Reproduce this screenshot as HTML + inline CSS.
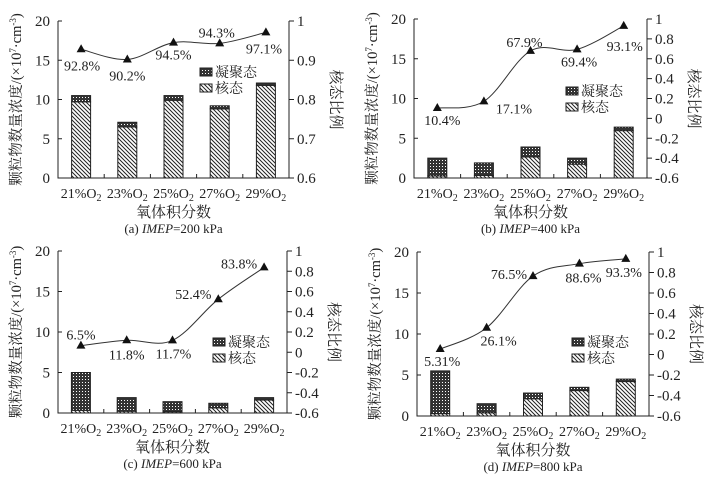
<!DOCTYPE html>
<html><head><meta charset="utf-8">
<style>
html,body{margin:0;padding:0;background:#fff;}
svg{display:block;font-family:"Liberation Serif","Noto Serif CJK SC",serif;}
</style></head>
<body>
<svg id="fig" width="716" height="477" viewBox="0 0 716 477" xmlns="http://www.w3.org/2000/svg">
<defs>
<pattern id="hatch" patternUnits="userSpaceOnUse" width="4" height="4">
<rect width="4" height="4" fill="#fff"/>
<path d="M-1,-1 L5,5 M-1,3 L1,5 M3,-1 L5,1" stroke="#222" stroke-width="1"/>
</pattern>
<pattern id="cross" patternUnits="userSpaceOnUse" width="3" height="3">
<rect width="3" height="3" fill="#333"/>
<rect x="1" y="1" width="1" height="1" fill="#fff"/>
</pattern>
</defs>
</svg>
<script>
const categories = ["21%O2","23%O2","25%O2","27%O2","29%O2"];
const totalA = [10.5, 7.1, 10.5, 9.2, 12.1];
const nucleusA = [9.7, 6.5, 9.9, 8.8, 11.8];
const ratioA = [0.928, 0.902, 0.945, 0.943, 0.971];
const ratioLabelsA = ["92.8%","90.2%","94.5%","94.3%","97.1%"];
const totalB = [2.5, 1.9, 3.9, 2.5, 6.4];
const nucleusB = [0.26, 0.33, 2.65, 1.74, 5.96];
const ratioB = [0.104, 0.171, 0.679, 0.694, 0.931];
const ratioLabelsB = ["10.4%","17.1%","67.9%","69.4%","93.1%"];
const totalC = [5.0, 1.9, 1.4, 1.2, 1.9];
const nucleusC = [0.33, 0.22, 0.16, 0.63, 1.6];
const ratioC = [0.065, 0.118, 0.117, 0.524, 0.838];
const ratioLabelsC = ["6.5%","11.8%","11.7%","52.4%","83.8%"];
const totalD = [5.5, 1.5, 2.8, 3.5, 4.5];
const nucleusD = [0.29, 0.39, 2.1, 3.1, 4.2];
const ratioD = [0.0531, 0.261, 0.765, 0.886, 0.933];
const ratioLabelsD = ["5.31%","26.1%","76.5%","88.6%","93.3%"];
const leftTicks = [0,5,10,15,20];
const rightTicksA = [0.6,0.7,0.8,0.9,1];
const rightTicksB = [-0.6,-0.4,-0.2,0,0.2,0.4,0.6,0.8,1];

const NS="http://www.w3.org/2000/svg";
const svg=document.getElementById('fig');
function mk(tag,attrs,parent){const e=document.createElementNS(NS,tag);for(const k in attrs)e.setAttribute(k,attrs[k]);(parent||svg).appendChild(e);return e;}
function txt(s,x,y,size,parent,anchor){const t=mk('text',{x:x,y:y,'font-size':size,'text-anchor':anchor||'middle',fill:'#222'},parent);t.textContent=s;return t;}

const panels=[
 {id:'a',L:58,R:289,T:21,B:178,total:totalA,nuc:nucleusA,ratio:ratioA,rl:ratioLabelsA,rt:rightTicksA,rmin:0.6,rmax:1,
  off:[[1,16],[0,16],[0,12],[-3,-11],[-2,16]],leg:[200,73],cap:"(a) ",kpa:"=200 kPa"},
 {id:'b',L:414,R:647,T:19,B:178,total:totalB,nuc:nucleusB,ratio:ratioB,rl:ratioLabelsB,rt:rightTicksB,rmin:-0.6,rmax:1,
  off:[[5,12],[30,7],[-6,-9],[2,12],[1,20]],leg:[566,92],cap:"(b) ",kpa:"=400 kPa"},
 {id:'c',L:58,R:287,T:251,B:413,total:totalC,nuc:nucleusC,ratio:ratioC,rl:ratioLabelsC,rt:rightTicksB,rmin:-0.6,rmax:1,
  off:[[0,-11],[0,14],[1,13],[-25,-5],[-25,-4]],leg:[213,343],cap:"(c) ",kpa:"=600 kPa"},
 {id:'d',L:417,R:649,T:252,B:416,total:totalD,nuc:nucleusD,ratio:ratioD,rl:ratioLabelsD,rt:rightTicksB,rmin:-0.6,rmax:1,
  off:[[2,12],[12,13],[-24,-2],[4,14],[-2,13]],leg:[572,343],cap:"(d) ",kpa:"=800 kPa"}
];

panels.forEach(p=>{
 const g=mk('g',{});
 
 
 const n=categories.length, bw=(p.R-p.L)/n, barW=19;
 const y=v=>p.B-(v/20)*(p.B-p.T);
 const yr=v=>p.B-((v-p.rmin)/(p.rmax-p.rmin))*(p.B-p.T);
 const xc=i=>p.L+bw*(i+0.5);
 categories.forEach((c,i)=>{
  const nb=mk('rect',{x:xc(i)-barW/2,y:y(p.nuc[i]),width:barW,height:y(0)-y(p.nuc[i]),fill:'url(#hatch)',stroke:'#222','stroke-width':1},g);
  
  
  const ab=mk('rect',{x:xc(i)-barW/2,y:y(p.total[i]),width:barW,height:y(p.nuc[i])-y(p.total[i]),fill:'url(#cross)',stroke:'#222','stroke-width':1},g);
  
  
  const cl=txt('',xc(i),p.B+20,14,g);
  cl.innerHTML=c.slice(0,4)+'<tspan font-size="10" dy="3">2</tspan>';
  
  
 });
 mk('path',{d:`M${p.L},${p.T} L${p.L},${p.B} L${p.R},${p.B} L${p.R},${p.T}`,fill:'none',stroke:'#222','stroke-width':1},g);
 for(let i=1;i<n;i++) mk('line',{x1:p.L+bw*i,x2:p.L+bw*i,y1:p.B,y2:p.B-4,stroke:'#222'},g);
 leftTicks.forEach(v=>{
  mk('line',{x1:p.L,x2:p.L+4,y1:y(v),y2:y(v),stroke:'#222'},g);
  const t=txt(String(v),p.L-8,y(v)+5,15,g,'end');
  
  
 });
 p.rt.forEach(v=>{
  mk('line',{x1:p.R,x2:p.R+5,y1:yr(v),y2:yr(v),stroke:'#222'},g);
  const t=txt(String(Math.round(v*10)/10),p.R+8,yr(v)+5,15,g,'start');
  
  
 });
 const pts=p.ratio.map((v,i)=>[xc(i),yr(v)]);
 let d=`M${pts[0][0]},${pts[0][1]}`;
 for(let i=0;i<pts.length-1;i++){
  const p0=pts[Math.max(0,i-1)],p1=pts[i],p2=pts[i+1],p3=pts[Math.min(pts.length-1,i+2)];
  const c1=[p1[0]+(p2[0]-p0[0])/6,p1[1]+(p2[1]-p0[1])/6],c2=[p2[0]-(p3[0]-p1[0])/6,p2[1]-(p3[1]-p1[1])/6];
  d+=` C${c1[0]},${c1[1]} ${c2[0]},${c2[1]} ${p2[0]},${p2[1]}`;
 }
 const ln=mk('path',{d:d,fill:'none',stroke:'#333','stroke-width':1},g);
 
 
 pts.forEach((q,i)=>{
  const m=mk('path',{d:`M${q[0]},${q[1]-5} L${q[0]+4.5},${q[1]+3} L${q[0]-4.5},${q[1]+3}Z`,fill:'#111'},g);
  
  
  const t=txt(p.rl[i],q[0]+p.off[i][0],q[1]+p.off[i][1]+5,14,g);
  
  
 });
 const lg=mk('g',{},g);
 
 
 mk('rect',{x:p.leg[0],y:p.leg[1]-5,width:12,height:8,fill:'url(#cross)',stroke:'#222'},lg);
 txt('凝聚态',p.leg[0]+15,p.leg[1]+4,14,lg,'start');
 mk('rect',{x:p.leg[0],y:p.leg[1]+11,width:12,height:8,fill:'url(#hatch)',stroke:'#222'},lg);
 txt('核态',p.leg[0]+15,p.leg[1]+20,14,lg,'start');
 const mid=(p.L+p.R)/2;
 const xt=txt('氧体积分数',mid,p.B+39,15,g);
 
 
 const cap=txt('',mid,p.B+55,13,g);
 cap.innerHTML=p.cap+'<tspan font-style="italic">IMEP</tspan>'+p.kpa;
 
 
 const ymid=(p.T+p.B)/2;
 const yt=txt('',p.L-37,ymid,14.5,g);
 yt.setAttribute('transform',`rotate(-90 ${p.L-37} ${ymid})`);
 yt.innerHTML='颗粒物数量浓度/(×10<tspan font-size="9" dy="-5">7</tspan><tspan dy="5">·cm</tspan><tspan font-size="9" dy="-5">-3</tspan><tspan dy="5">)</tspan>';
 
 
 const rx=p.R+42;
 const rt=txt('核态比例',rx,ymid,15,g);
 rt.setAttribute('transform',`rotate(90 ${rx} ${ymid})`);
 
 
});
</script>
</body></html>
